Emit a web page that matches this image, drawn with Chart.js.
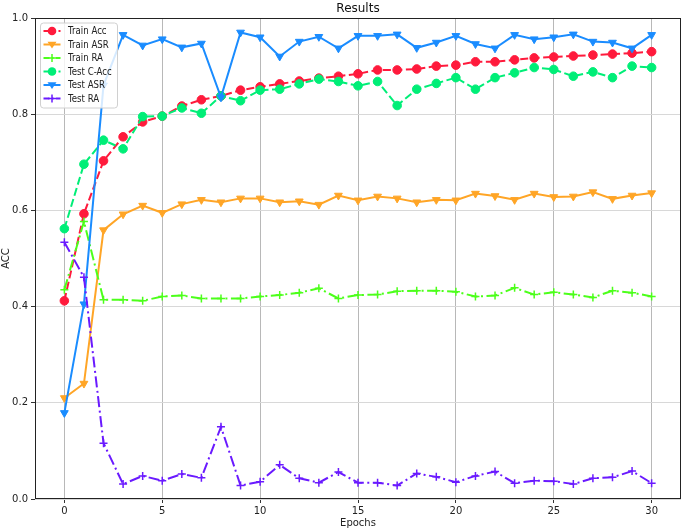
<!DOCTYPE html>
<html><head><meta charset="utf-8">
<script src="https://cdn.jsdelivr.net/npm/chart.js@4/dist/chart.umd.min.js"></script>
<style>html,body{margin:0;padding:0;background:#fff;}#wrap{width:690px;height:532px;}</style>
</head><body>
<div id="wrap"><canvas id="c" width="690" height="532"></canvas></div>
<script>
const epochs = [0,1,2,3,4,5,6,7,8,9,10,11,12,13,14,15,16,17,18,19,20,21,22,23,24,25,26,27,28,29,30];
const trainAcc = [0.412,0.593,0.703,0.753,0.784,0.796,0.817,0.830,0.838,0.850,0.857,0.863,0.869,0.875,0.879,0.884,0.892,0.892,0.894,0.900,0.902,0.909,0.909,0.913,0.917,0.919,0.921,0.923,0.925,0.927,0.930];
const trainASR = [0.210,0.240,0.559,0.592,0.610,0.595,0.613,0.622,0.617,0.625,0.625,0.617,0.619,0.612,0.631,0.621,0.629,0.625,0.617,0.622,0.621,0.635,0.630,0.622,0.635,0.628,0.629,0.638,0.624,0.631,0.636];
const trainRA = [0.435,0.577,0.414,0.414,0.412,0.421,0.423,0.417,0.417,0.417,0.421,0.424,0.429,0.438,0.417,0.424,0.425,0.432,0.433,0.433,0.431,0.421,0.423,0.439,0.425,0.430,0.425,0.419,0.433,0.429,0.421];
const testCAcc = [0.562,0.696,0.746,0.728,0.795,0.796,0.813,0.802,0.838,0.828,0.850,0.852,0.863,0.873,0.868,0.859,0.868,0.818,0.852,0.864,0.876,0.852,0.876,0.886,0.897,0.893,0.879,0.888,0.876,0.900,0.897];
const testASR = [0.179,0.405,0.860,0.965,0.943,0.956,0.939,0.947,0.835,0.970,0.960,0.920,0.951,0.961,0.937,0.963,0.963,0.966,0.938,0.949,0.963,0.946,0.937,0.965,0.956,0.960,0.966,0.951,0.949,0.937,0.965];
const testRA = [0.534,0.461,0.116,0.031,0.048,0.038,0.052,0.044,0.150,0.028,0.036,0.071,0.043,0.034,0.056,0.034,0.034,0.028,0.053,0.046,0.035,0.048,0.057,0.033,0.038,0.037,0.031,0.043,0.045,0.058,0.033];
const xTicks = [0,5,10,15,20,25,30];
const yTicks = [0.0,0.2,0.4,0.6,0.8,1.0];
const seriesNames = ['Train Acc','Train ASR','Train RA','Test C-Acc','Test ASR','Test RA'];

const FONT = "'DejaVu Sans', sans-serif";
const DASH = [8,3.5];
const DASHDOT = [11,3.5,2,3.5];

function mk(label, vals, color, style, dash, rot, radius, bw, idx){
  return {
    label: label,
    data: epochs.map((e,i)=>({x:e,y:vals[i]})),
    borderColor: color, backgroundColor: color,
    borderWidth: 2, borderDash: dash,
    pointStyle: style, pointRotation: rot, pointRadius: radius,
    pointBorderWidth: bw, pointBackgroundColor: color, pointBorderColor: color,
    pointHoverRadius: radius,
    tension: 0, fill: false, order: 6 - idx
  };
}
const datasets = [
  mk(seriesNames[0], trainAcc, '#ff1a3c', 'circle', DASH, 0, 4.3, 1, 0),
  mk(seriesNames[1], trainASR, '#ffa526', 'triangle', [], 180, 4.5, 1, 1),
  mk(seriesNames[2], trainRA, '#4cff1a', 'cross', DASHDOT, 0, 4, 1.5, 2),
  mk(seriesNames[3], testCAcc, '#00ee77', 'circle', DASH, 0, 4.3, 1, 3),
  mk(seriesNames[4], testASR, '#1a8cff', 'triangle', [], 180, 4.5, 1, 4),
  mk(seriesNames[5], testRA, '#6a1aff', 'cross', DASHDOT, 0, 4, 1.5, 5)
];

function drawMarker(ctx, ds, x, y){
  ctx.save();
  ctx.fillStyle = ds.pointBackgroundColor; ctx.strokeStyle = ds.pointBorderColor;
  ctx.setLineDash([]);
  const r = ds.pointRadius;
  if (ds.pointStyle === 'circle'){
    ctx.beginPath(); ctx.arc(x,y,r,0,Math.PI*2); ctx.fill();
  } else if (ds.pointStyle === 'triangle'){
    ctx.beginPath();
    ctx.moveTo(x-r, y-r*0.6); ctx.lineTo(x+r, y-r*0.6); ctx.lineTo(x, y+r*0.9); ctx.closePath(); ctx.fill();
  } else {
    ctx.lineWidth = ds.pointBorderWidth;
    ctx.beginPath(); ctx.moveTo(x-r,y); ctx.lineTo(x+r,y); ctx.moveTo(x,y-r); ctx.lineTo(x,y+r); ctx.stroke();
  }
  ctx.restore();
}

const deco = {
  id: 'deco',
  afterDatasetsDraw(chart){
    const ctx = chart.ctx, a = chart.chartArea;
    ctx.save();
    // frame
    ctx.strokeStyle = '#222'; ctx.lineWidth = 1; ctx.setLineDash([]);
    ctx.strokeRect(a.left+0.5, a.top+0.5, a.right-a.left-1, a.bottom-a.top-1);
    // title
    ctx.fillStyle = '#111'; ctx.font = '12px ' + FONT;
    ctx.textAlign = 'center'; ctx.textBaseline = 'middle';
    ctx.fillText('Results', (a.left+a.right)/2, 9);
    // legend
    const bx = 40, by = 22.5, bw = 77, bh = 85;
    ctx.fillStyle = 'rgba(255,255,255,0.82)';
    ctx.strokeStyle = '#d0d0d0'; ctx.lineWidth = 1;
    ctx.beginPath();
    if (ctx.roundRect) ctx.roundRect(bx+0.5, by+0.5, bw, bh, 3); else ctx.rect(bx+0.5, by+0.5, bw, bh);
    ctx.fill(); ctx.stroke();
    chart.data.datasets.forEach((ds, i) => {
      const y = 31 + i*13.5;
      ctx.strokeStyle = ds.borderColor; ctx.lineWidth = 2;
      ctx.setLineDash(ds.borderDash.length ? (ds.borderDash === DASH ? [5,2.5] : [6,2.5,1.5,2.5]) : []);
      ctx.beginPath(); ctx.moveTo(43.5, y); ctx.lineTo(60.5, y); ctx.stroke();
      drawMarker(ctx, ds, 52, y);
      ctx.save();
      ctx.translate(68, y); ctx.scale(0.82, 1);
      ctx.font = '10.5px ' + FONT; ctx.textAlign = 'left'; ctx.textBaseline = 'middle';
      ctx.fillStyle = '#222';
      ctx.fillText(ds.label, 0, 0.5);
      ctx.restore();
    });
    ctx.restore();
  }
};

new Chart(document.getElementById('c'), {
  type: 'line',
  data: { datasets: datasets },
  options: {
    responsive: false, animation: false, devicePixelRatio: 1,
    layout: { padding: { top: 18, right: 9, left: 0, bottom: 0 } },
    plugins: { legend: { display: false }, title: { display: false }, tooltip: { enabled: false } },
    scales: {
      x: {
        type: 'linear', min: -1.5, max: 31.5,
        afterBuildTicks: s => { s.ticks = xTicks.map(v => ({ value: v })); },
        afterFit: s => { s.height = 33; },
        grid: { color: '#b8b8b8', lineWidth: 1, tickLength: 4, tickColor: '#333', drawTicks: true },
        border: { display: false },
        ticks: { font: { family: FONT, size: 10 }, color: '#222', padding: 2, maxRotation: 0, autoSkip: false,
                 callback: v => String(v) },
        title: { display: true, text: 'Epochs', font: { family: FONT, size: 10 }, color: '#222', padding: { top: 0, bottom: 3 } }
      },
      y: {
        type: 'linear', min: 0, max: 1,
        afterBuildTicks: s => { s.ticks = yTicks.map(v => ({ value: v })); },
        afterFit: s => { s.width = 35; },
        grid: { color: '#d8d8d8', lineWidth: 1, tickLength: 4, tickColor: '#333', drawTicks: true },
        border: { display: false },
        ticks: { font: { family: FONT, size: 10 }, color: '#222', padding: 3, autoSkip: false,
                 callback: v => Number(v).toFixed(1) },
        title: { display: true, text: 'ACC', font: { family: FONT, size: 10 }, color: '#222', padding: { top: 0, bottom: 0 } }
      }
    }
  },
  plugins: [deco]
});
</script>
</body></html>
